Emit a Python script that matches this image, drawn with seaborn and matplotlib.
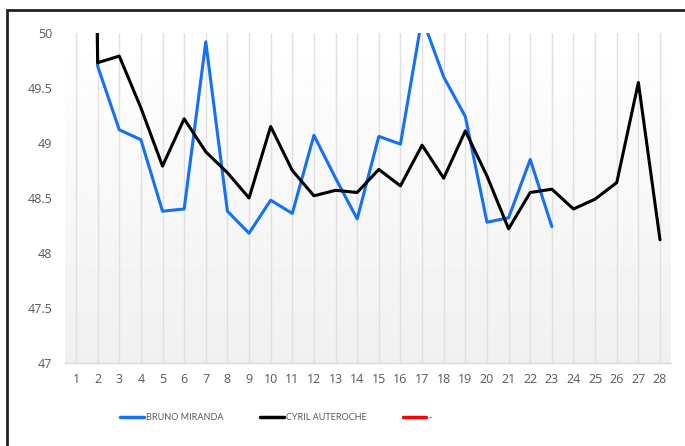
import numpy as np
import pandas as pd
import matplotlib
matplotlib.use("Agg")
import matplotlib.pyplot as plt
from matplotlib.lines import Line2D
from matplotlib.patches import Rectangle
import seaborn as sns

# lap numbers and lap times (first lap is far off the scale)
laps = list(range(1, 29))
bruno = [70.0, 49.70, 49.12, 49.03, 48.38, 48.40, 49.92, 48.38, 48.18, 48.48,
         48.36, 49.07, 48.68, 48.31, 49.06, 48.99, 50.14, 49.60, 49.24, 48.28,
         48.32, 48.85, 48.24, np.nan, np.nan, np.nan, np.nan, np.nan]
cyril = [70.0, 49.73, 49.79, 49.32, 48.79, 49.22, 48.92, 48.73, 48.50, 49.15,
         48.75, 48.52, 48.57, 48.55, 48.76, 48.61, 48.98, 48.68, 49.11, 48.70,
         48.22, 48.55, 48.58, 48.40, 48.49, 48.64, 49.55, 48.12]
series_names = ["BRUNO MIRANDA", "CYRIL AUTEROCHE", "-"]
series_colors = ["#1570f2", "#000000", "#ff0000"]
y_ticks = [47, 47.5, 48, 48.5, 49, 49.5, 50]

df = pd.DataFrame({
    "lap": laps * 2,
    "time": bruno + cyril,
    "driver": [series_names[0]] * len(laps) + [series_names[1]] * len(laps),
})

sns.set_theme(style="white")
plt.rcParams["font.family"] = ["Open Sans", "DejaVu Sans"]

W, H = 685, 446
fig = plt.figure(figsize=(W / 100, H / 100), dpi=100)
ax = fig.add_axes([65 / W, 1 - 363 / H, (671 - 65) / W, (363 - 33) / H])

# soft vertical gradient behind the plot
grad = np.linspace(1.0, 0.94, 256).reshape(-1, 1)
ax.imshow(grad, cmap="gray", vmin=0, vmax=1, aspect="auto",
          extent=[0, 1, 0, 1], transform=ax.transAxes, zorder=0)

for x in laps:
    ax.axvline(x, color="#e0e0e0", lw=1, zorder=1)

sns.lineplot(data=df, x="lap", y="time", hue="driver",
             palette=dict(zip(series_names[:2], series_colors[:2])),
             lw=2.2, ax=ax, legend=False, zorder=3)

ax.set_xlim(1 - 11 / 21.63, 28 + 11 / 21.63)
ax.set_ylim(47, 50)
ax.set_xticks(laps)
ax.set_yticks(y_ticks)
ax.set_yticklabels([f"{v:g}" for v in y_ticks])
ax.set_xlabel("")
ax.set_ylabel("")
for s in ["top", "right", "left"]:
    ax.spines[s].set_visible(False)
ax.spines["bottom"].set_color("#d9d9d9")
ax.spines["bottom"].set_linewidth(1)
ax.tick_params(axis="both", length=0, labelsize=9, labelcolor="#595959")
ax.tick_params(axis="y", pad=9)
ax.tick_params(axis="x", pad=7)

handles = [Line2D([], [], color=c, lw=2.5) for c in series_colors]
fig.legend(handles, series_names, loc="center", bbox_to_anchor=(276 / W, 1 - 418 / H),
           ncol=3, frameon=False, handlelength=2.65, handletextpad=0.23,
           columnspacing=4.0, prop={"family": "Lato", "size": 6.5},
           labelcolor="#595959")

# outer chart frame (only left and top edges show in the crop)
fig.patches.append(Rectangle((6.5 / W, -0.1), 1.2, 1.1 - 10.5 / H, transform=fig.transFigure,
                             fill=False, edgecolor="#222222", lw=2))

fig.savefig("out.png", dpi=100)
